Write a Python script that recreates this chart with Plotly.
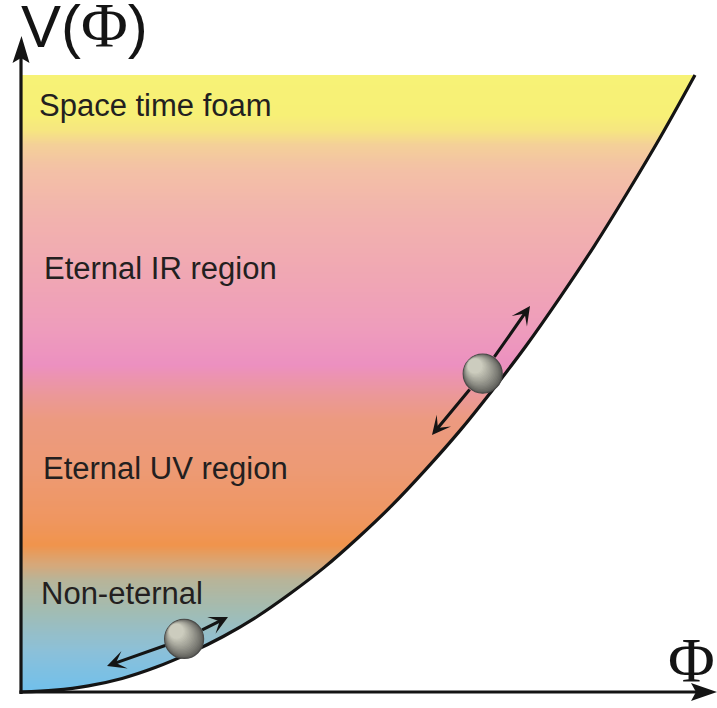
import numpy as np
import plotly.graph_objects as go

W, H = 717, 708

# ---------------- data ----------------
phi = [0.00, 0.05, 0.10, 0.15, 0.20, 0.25, 0.30, 0.35, 0.40, 0.45, 0.50,
       0.55, 0.60, 0.65, 0.70, 0.75, 0.80, 0.85, 0.90, 0.95, 1.00]
V = [0.000, 0.003, 0.010, 0.022, 0.040, 0.063, 0.090, 0.122, 0.160, 0.202, 0.250,
     0.302, 0.360, 0.422, 0.490, 0.562, 0.640, 0.722, 0.810, 0.902, 1.000]

ball_phi = [0.242, 0.685]
ball_V = [0.086, 0.516]

region_labels = ["Space time foam", "Eternal IR region", "Eternal UV region", "Non-eternal"]
region_phi = [0.024, 0.031, 0.030, 0.027]
region_V = [0.951, 0.687, 0.363, 0.159]

# vertical colour gradient of the filled region (V level -> colour)
grad_V = [0.000, 0.068, 0.133, 0.182, 0.206, 0.238, 0.279, 0.360, 0.441, 0.481,
          0.530, 0.587, 0.668, 0.765, 0.846, 0.887, 0.911, 0.935, 1.000]
grad_colors = ["#70c0ec", "#8cc0d8", "#a2bcb2", "#b8b498", "#d6a87a", "#f0944c",
               "#ef9660", "#ed9a74", "#ec9a80", "#eb9898", "#ec90c0", "#ee9cbc",
               "#f0a6b4", "#f2b2ae", "#f3c0a6", "#f4d098", "#f6e680", "#f7f076",
               "#f7f276"]

# ---------------- geometry helpers (pixel -> axis units) ----------------
OX, OY = 21.0, 692.0          # origin in pixels
SX, SY = 674.0, 617.0         # pixels per unit


def X(px):
    return (px - OX) / SX


def Y(py):
    return (OY - py) / SY


def PX(x):
    return OX + x * SX


def PY(y):
    return OY - y * SY


xr = [X(0), X(W)]
yr = [Y(H), Y(0)]

fig = go.Figure()

# gradient fill (heatmap of V levels), masked on the right of the curve
nrows = 600
y_edges = np.linspace(0, 1, nrows + 1)
z = ((y_edges[:-1] + y_edges[1:]) / 2).reshape(-1, 1)
colorscale = [[v, c] for v, c in zip(grad_V, grad_colors)]
fig.add_trace(go.Heatmap(x=[0, 1], y=y_edges, z=z, zmin=0, zmax=1,
                         colorscale=colorscale, showscale=False,
                         hoverinfo="skip"))

mask_x = list(phi) + [1.03, 1.03, 0.0]
mask_y = list(V) + [1.0, -0.01, -0.01]
fig.add_trace(go.Scatter(x=mask_x, y=mask_y, fill="toself", fillcolor="white",
                         mode="lines", line=dict(width=0), hoverinfo="skip",
                         showlegend=False))

# potential curve
fig.add_trace(go.Scatter(x=phi, y=V, mode="lines",
                         line=dict(color="#141414", width=3.2, shape="spline"),
                         hoverinfo="skip", showlegend=False))

# balls (stacked circles imitating a diagonal shading)
D = 39
n_layers = 16
c_dark = np.array([0x5c, 0x5c, 0x58])
c_light = np.array([0xcc, 0xcc, 0xbe])


def hexc(c):
    return "#%02x%02x%02x" % tuple(int(round(v)) for v in c)


for bp, bv in zip(ball_phi, ball_V):
    for i in range(n_layers):
        t = i / (n_layers - 1)
        size = D * (1 - 0.62 * t)
        shift = (D - size) / 2 * 0.9
        cx = bp + (-shift * 0.707) / SX
        cy = bv + (shift * 0.707) / SY
        col = hexc(c_dark + (c_light - c_dark) * (t ** 0.85))
        fig.add_trace(go.Scatter(
            x=[cx], y=[cy], mode="markers",
            marker=dict(size=size, color=col,
                        line=dict(width=1.2 if i == 0 else 0, color="#4a4a48")),
            hoverinfo="skip", showlegend=False))

# ---------------- axes (arrows) ----------------
shapes = []
shapes.append(dict(type="line", x0=X(OX), y0=Y(694), x1=X(OX), y1=Y(55),
                   line=dict(color="#141414", width=3.2), layer="above"))
shapes.append(dict(type="line", x0=X(19.4), y0=Y(OY), x1=X(698), y1=Y(OY),
                   line=dict(color="#141414", width=3.2), layer="above"))


def path(points):
    return "M " + " L ".join("%f,%f" % (X(px), Y(py)) for px, py in points) + " Z"


shapes.append(dict(type="path", path=path([(OX + 0.5, 36), (OX - 8.5, 63),
                                           (OX, 58), (OX + 8.5, 63)]),
                   fillcolor="#141414", line=dict(width=0), layer="above"))
shapes.append(dict(type="path", path=path([(717, OY), (691, OY - 9),
                                           (696, OY), (691, OY + 9)]),
                   fillcolor="#141414", line=dict(width=0), layer="above"))

annotations = []

# double arrows along the curve next to each ball (start at the ball's rim)
arrow_pairs = [((107, 666), (228, 617)), ((432, 435), (530, 306))]
R = D / 2 - 1
for (bp, bv), (a, b) in zip(zip(ball_phi, ball_V), arrow_pairs):
    cxp, cyp = PX(bp), PY(bv)
    for tip in (a, b):
        dx, dy = tip[0] - cxp, tip[1] - cyp
        L = (dx * dx + dy * dy) ** 0.5
        sx, sy = cxp + dx / L * R, cyp + dy / L * R
        annotations.append(dict(x=X(tip[0]), y=Y(tip[1]), ax=X(sx), ay=Y(sy),
                                xref="x", yref="y", axref="x", ayref="y",
                                text="", showarrow=True, arrowhead=3,
                                arrowsize=1.0, arrowwidth=3.1,
                                arrowcolor="#141414", standoff=0))

# region labels
for lab, lx, ly in zip(region_labels, region_phi, region_V):
    annotations.append(dict(x=lx, y=ly, xref="x", yref="y", text=lab,
                            showarrow=False, xanchor="left", yanchor="middle",
                            font=dict(family="Liberation Sans, Arial", size=31,
                                      color="#231f20")))

# axis titles
annotations.append(dict(x=X(19), y=Y(25), xref="x", yref="y",
                        text='V(<span style="font-family:\'Liberation Serif\';font-size:64px">Φ</span>)',
                        showarrow=False, xanchor="left", yanchor="middle",
                        font=dict(family="Liberation Sans, Arial", size=60,
                                  color="#141414")))
annotations.append(dict(x=X(691), y=Y(660), xref="x", yref="y", text="Φ",
                        showarrow=False, xanchor="center", yanchor="middle",
                        font=dict(family="Liberation Serif, Times New Roman",
                                  size=64, color="#141414")))

fig.update_layout(
    width=W, height=H, autosize=False,
    margin=dict(l=0, r=0, t=0, b=0, pad=0),
    paper_bgcolor="white", plot_bgcolor="white",
    xaxis=dict(range=xr, visible=False, showgrid=False, zeroline=False, fixedrange=True),
    yaxis=dict(range=yr, visible=False, showgrid=False, zeroline=False, fixedrange=True),
    shapes=shapes, annotations=annotations, showlegend=False,
)

fig.write_html("out.html", config={"displayModeBar": False, "staticPlot": True},
               post_script="document.body.style.margin='0';document.body.style.padding='0';")
